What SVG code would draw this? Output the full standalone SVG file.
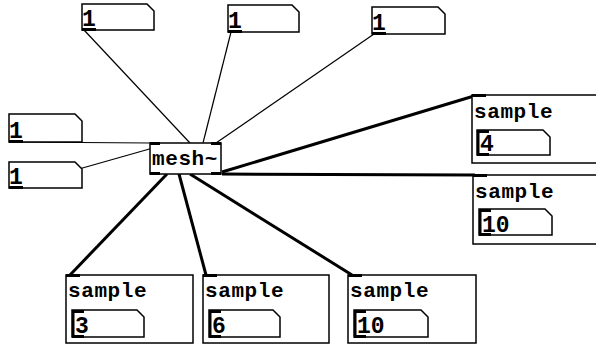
<svg xmlns="http://www.w3.org/2000/svg" width="596" height="347" viewBox="0 0 596 347">
  <style>
    .box { fill: #fff; stroke: #000; stroke-width: 1.5; }
    .io { fill: #000; }
    .t { font-family: "Liberation Mono", "DejaVu Sans Mono", monospace; font-weight: bold; font-size: 20px; fill: #000; }
    .num { font-size: 23px; }
    .lbl { font-size: 21px; letter-spacing: 0.6px; }
    .ctl { stroke: #000; stroke-width: 1.2; fill: none; }
    .sig { stroke: #000; stroke-width: 3; fill: none; }
  </style>
  <rect width="596" height="347" fill="#fff"/>

  <!-- connections -->
  <g id="connections">
    <line class="ctl" x1="84" y1="30" x2="190" y2="143"/>
    <line class="ctl" x1="231" y1="32" x2="203" y2="143"/>
    <line class="ctl" x1="374" y1="34" x2="216" y2="143"/>
    <line class="ctl" x1="9" y1="142" x2="151" y2="143"/>
    <line class="ctl" x1="12" y1="188" x2="160" y2="146"/>
    <line class="sig" x1="167" y1="174" x2="70" y2="275"/>
    <line class="sig" x1="179" y1="174" x2="206" y2="275"/>
    <line class="sig" x1="190" y1="174" x2="352" y2="275"/>
    <line class="sig" x1="222" y1="172" x2="474" y2="96"/>
    <line class="sig" x1="222" y1="174" x2="475" y2="175"/>
  </g>

  <!-- number boxes -->
  <g id="num1">
    <path class="box" d="M82,4 H147 L154,11 V30 H82 Z"/>
    <rect class="io" x="82" y="28" width="14" height="3"/>
    <text class="t num" x="82" y="26">1</text>
  </g>
  <g id="num2">
    <path class="box" d="M228,5 H292 L299,12 V32 H228 Z"/>
    <rect class="io" x="228" y="30" width="14" height="3"/>
    <text class="t num" x="228" y="28">1</text>
  </g>
  <g id="num3">
    <path class="box" d="M372,7 H438 L445,14 V34 H372 Z"/>
    <rect class="io" x="372" y="32" width="14" height="3"/>
    <text class="t num" x="372" y="30">1</text>
  </g>
  <g id="num4">
    <path class="box" d="M9,114 H75 L82,121 V142 H9 Z"/>
    <rect class="io" x="9" y="140" width="14" height="3"/>
    <text class="t num" x="9" y="138">1</text>
  </g>
  <g id="num5">
    <path class="box" d="M9,162 H75 L82,169 V188 H9 Z"/>
    <rect class="io" x="9" y="186" width="14" height="3"/>
    <text class="t num" x="9" y="184">1</text>
  </g>

  <!-- mesh~ object -->
  <g id="mesh">
    <rect class="box" x="150" y="143" width="71" height="31"/>
    <rect class="io" x="150" y="142" width="10" height="3"/>
    <rect class="io" x="211" y="142" width="10" height="3"/>
    <rect class="io" x="150" y="172" width="10" height="3"/>
    <rect class="io" x="211" y="172" width="10" height="3"/>
    <text class="t lbl" x="152" y="165">mesh~</text>
  </g>

  <!-- sample subpatches, right -->
  <g id="sampleR1">
    <rect class="box" x="472" y="95" width="140" height="68"/>
    <rect class="io" x="472" y="94" width="14" height="3"/>
    <text class="t lbl" x="474" y="118">sample</text>
    <path class="box" d="M477,130 H543 L550,137 V155 H477 Z"/>
    <rect class="io" x="477" y="130" width="12" height="3"/>
    <rect class="io" x="477" y="153" width="12" height="3"/>
    <rect class="io" x="477" y="130" width="2.5" height="25"/>
    <text class="t num" x="480" y="151">4</text>
  </g>
  <g id="sampleR2">
    <rect class="box" x="473" y="175" width="140" height="69"/>
    <rect class="io" x="473" y="174" width="14" height="3"/>
    <text class="t lbl" x="475" y="198">sample</text>
    <path class="box" d="M479,209 H545 L552,216 V235 H479 Z"/>
    <rect class="io" x="479" y="209" width="12" height="3"/>
    <rect class="io" x="479" y="233" width="12" height="3"/>
    <rect class="io" x="479" y="209" width="2.5" height="26"/>
    <text class="t num" x="482" y="232">10</text>
  </g>

  <!-- sample subpatches, bottom -->
  <g id="sampleB1">
    <rect class="box" x="66" y="275" width="127" height="68"/>
    <rect class="io" x="66" y="274" width="14" height="3"/>
    <text class="t lbl" x="68" y="297">sample</text>
    <path class="box" d="M72,310 H137 L144,317 V337 H72 Z"/>
    <rect class="io" x="72" y="310" width="12" height="3"/>
    <rect class="io" x="72" y="335" width="12" height="3"/>
    <rect class="io" x="72" y="310" width="2.5" height="27"/>
    <text class="t num" x="75" y="333">3</text>
  </g>
  <g id="sampleB2">
    <rect class="box" x="203" y="275" width="126" height="68"/>
    <rect class="io" x="203" y="274" width="14" height="3"/>
    <text class="t lbl" x="205" y="297">sample</text>
    <path class="box" d="M209,310 H273 L280,317 V337 H209 Z"/>
    <rect class="io" x="209" y="310" width="12" height="3"/>
    <rect class="io" x="209" y="335" width="12" height="3"/>
    <rect class="io" x="209" y="310" width="2.5" height="27"/>
    <text class="t num" x="212" y="333">6</text>
  </g>
  <g id="sampleB3">
    <rect class="box" x="348" y="275" width="128" height="68"/>
    <rect class="io" x="348" y="274" width="14" height="3"/>
    <text class="t lbl" x="350" y="297">sample</text>
    <path class="box" d="M354,310 H421 L428,317 V337 H354 Z"/>
    <rect class="io" x="354" y="310" width="12" height="3"/>
    <rect class="io" x="354" y="335" width="12" height="3"/>
    <rect class="io" x="354" y="310" width="2.5" height="27"/>
    <text class="t num" x="357" y="333">10</text>
  </g>
</svg>
